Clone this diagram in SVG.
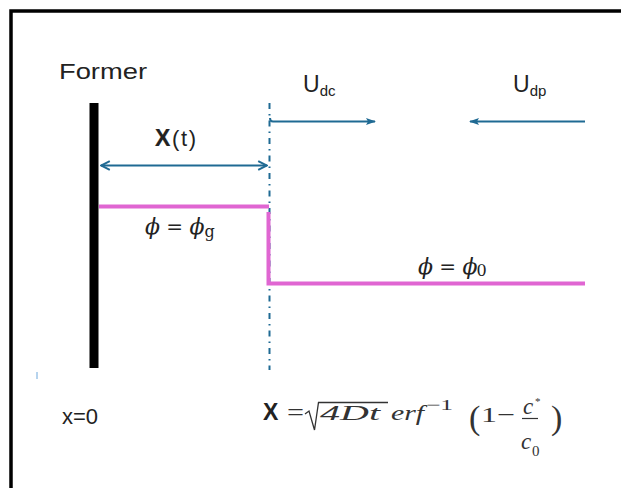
<svg xmlns="http://www.w3.org/2000/svg" width="621" height="488" viewBox="0 0 621 488">
<defs>
<style>
.lbl{font-family:"Liberation Sans",Arial,sans-serif;fill:#222}
.math{font-family:"DejaVu Serif","Liberation Serif",serif;font-style:italic;fill:#222}
.mathr{font-family:"DejaVu Serif","Liberation Serif",serif;fill:#222}
.fm{font-family:"Liberation Serif","DejaVu Serif",serif;font-style:italic;fill:#333}
.fr{font-family:"Liberation Serif","DejaVu Serif",serif;fill:#333}
.blue{stroke:#1f6a93;stroke-width:2;fill:none}
.pink{stroke:#e066d2;stroke-width:4;fill:none}
</style>
<marker id="ah" viewBox="0 0 10 10" refX="9" refY="5" markerWidth="11" markerHeight="11" markerUnits="userSpaceOnUse" orient="auto-start-reverse">
<path d="M1,1 L9,5 L1,9" fill="none" stroke="#1f6a93" stroke-width="1.8"/>
</marker>
<marker id="ahf" viewBox="0 0 10 10" refX="9" refY="5" markerWidth="10" markerHeight="10" markerUnits="userSpaceOnUse" orient="auto-start-reverse">
<path d="M0,1.5 L10,5 L0,8.5 L2,5 Z" fill="#1f6a93"/>
</marker>
</defs>
<rect width="621" height="488" fill="#fff"/>
<path d="M11,488 V11 H621" fill="none" stroke="#000" stroke-width="3.5"/>
<line x1="37" y1="372" x2="37" y2="379" stroke="#6fa8dc" stroke-width="1"/>

<g id="former">
<rect x="89.5" y="103" width="9" height="265" fill="#000"/>
<text class="lbl" x="59" y="79" font-size="22" textLength="88" lengthAdjust="spacingAndGlyphs">Former</text>
</g>

<g id="interface">
<line x1="269.5" y1="103" x2="269.5" y2="370" stroke="#1f6a93" stroke-width="2" stroke-dasharray="6 5 1.5 5"/>
</g>

<g id="connectors">
<line class="blue" x1="101" y1="165.5" x2="267" y2="165.5" marker-start="url(#ah)" marker-end="url(#ah)"/>
<path class="blue" d="M270,118 Q270,121.5 273,121.5 H375" marker-end="url(#ahf)"/>
<line class="blue" x1="585" y1="121.5" x2="470" y2="121.5" marker-end="url(#ahf)"/>
</g>

<g id="phi-profile">
<path class="pink" d="M99,206.5 H269"/>
<path class="pink" d="M268.5,212 V283.5 H585"/>
</g>

<g id="labels">
<text class="lbl" x="155" y="146" font-size="23" font-weight="bold" stroke="#222" stroke-width="0.2">X</text>
<text class="lbl" x="172" y="146" font-size="22" textLength="24" lengthAdjust="spacing">(t)</text>
<text class="lbl" x="303" y="92" font-size="23">U<tspan font-size="15" dy="4">dc</tspan></text>
<text class="lbl" x="513" y="92" font-size="23">U<tspan font-size="15" dy="4">dp</tspan></text>
<text class="math" x="145" y="234" font-size="22">ϕ<tspan class="mathr" font-style="normal" font-size="20"> = </tspan>ϕ<tspan class="mathr" font-style="normal" font-size="16" dy="3">g</tspan></text>
<text class="math" x="418" y="274" font-size="22">ϕ<tspan class="mathr" font-style="normal" font-size="20"> = </tspan>ϕ<tspan class="mathr" font-style="normal" font-size="16" dx="-1" dy="2">0</tspan></text>
<text class="lbl" x="62" y="424" font-size="22">x=0</text>
</g>

<g id="formula">
<text class="lbl" x="263" y="420" font-size="23" font-weight="bold">X</text>
<text class="fr" x="287" y="420" font-size="24" textLength="17" lengthAdjust="spacingAndGlyphs">=</text>
<path d="M305,414 L309,411 L314.5,430 L318.5,402.5 H388" fill="none" stroke="#333" stroke-width="1.3"/>
<text class="fm" x="320" y="420" font-size="21" textLength="60" lengthAdjust="spacingAndGlyphs">4Dt</text>
<text class="fm" x="391" y="420" font-size="21" textLength="33" lengthAdjust="spacingAndGlyphs">erf</text>
<text class="fr" x="426" y="410" font-size="15" textLength="27" lengthAdjust="spacingAndGlyphs">−1</text>
<text class="fr" x="469" y="429" font-size="34">(</text>
<text class="fr" x="481" y="422" font-size="22" textLength="34" lengthAdjust="spacingAndGlyphs">1−</text>
<line x1="522" y1="418.5" x2="538" y2="418.5" stroke="#333" stroke-width="1.2"/>
<text class="fm" x="523" y="414" font-size="23">c</text>
<text class="fr" x="535" y="405" font-size="11">*</text>
<text class="fm" x="521" y="449" font-size="23">c</text>
<text class="fr" x="532" y="456" font-size="15">0</text>
<text class="fr" x="551" y="429" font-size="34">)</text>
</g>
</svg>
